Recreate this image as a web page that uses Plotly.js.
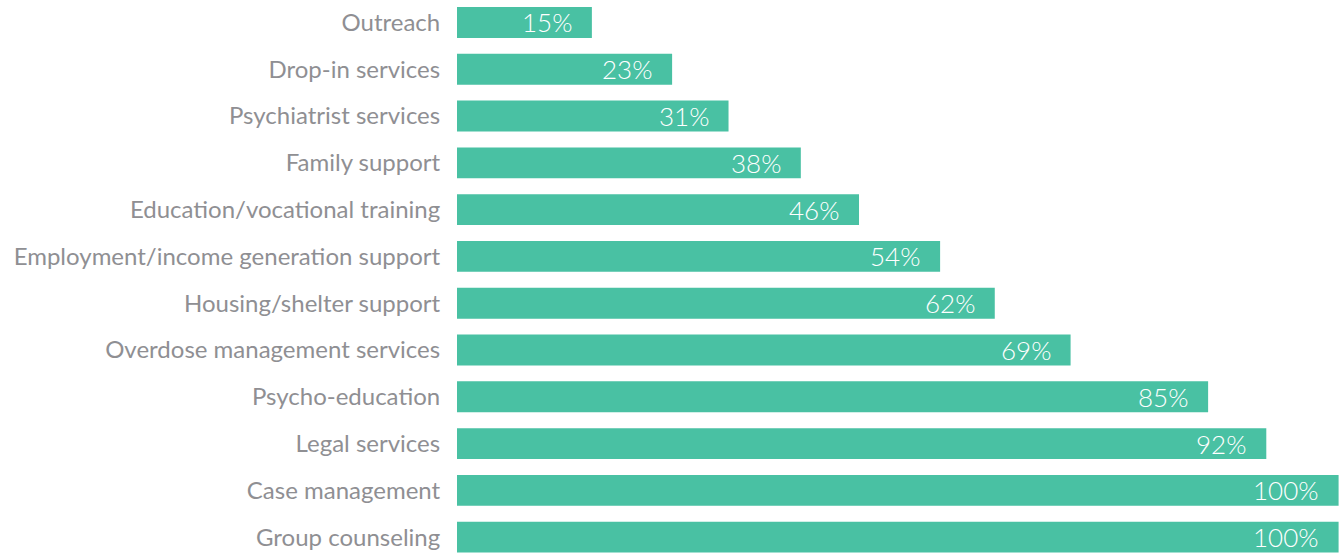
<!DOCTYPE html>
<html>
<head>
<meta charset="utf-8">
<script src="https://cdn.plot.ly/plotly-3.0.1.min.js"></script>
<style>html,body{margin:0;padding:0;background:#fff;}#chart{width:1343px;height:554px;}</style>
</head>
<body>
<div id="chart"></div>
<script>
const categories = ["Outreach","Drop-in services","Psychiatrist services","Family support","Education/vocational training","Employment/income generation support","Housing/shelter support","Overdose management services","Psycho-education","Legal services","Case management","Group counseling"];
// bar lengths (percent)
const barValues = [15.3,24.4,30.8,39.0,45.6,54.8,61.0,69.6,85.2,91.8,100,100];
// printed labels
const labels = ["15%","23%","31%","38%","46%","54%","62%","69%","85%","92%","100%","100%"];

const trace = {
  type: 'bar', orientation: 'h',
  x: barValues, y: categories,
  marker: {color: '#49C1A3'},
  width: 0.66,
  hoverinfo: 'none'
};
const annotations = categories.map((c, i) => ({
  x: barValues[i], y: c, xref: 'x', yref: 'y', text: labels[i],
  showarrow: false, xanchor: 'right', yanchor: 'middle', xshift: -18, yshift: 0,
  font: {family: 'Lato, "Open Sans", sans-serif', size: 26, color: '#ffffff', weight: 300}
}));
const layout = {
  width: 1343, height: 554,
  margin: {l: 457, r: 0, t: 0, b: 0},
  paper_bgcolor: '#fff', plot_bgcolor: '#fff',
  showlegend: false,
  xaxis: {range: [0, 100.5], visible: false, fixedrange: true},
  yaxis: {
    range: [11.36, -0.48], type: 'category',
    showgrid: false, zeroline: false, showline: false,
    ticks: 'outside', ticklen: 11, tickcolor: 'rgba(0,0,0,0)',
    tickfont: {family: 'Lato, "Open Sans", sans-serif', size: 24, color: '#8f8f93'}
  },
  annotations: annotations
};
Plotly.newPlot('chart', [trace], layout, {displayModeBar: false, staticPlot: true});
</script>
</body>
</html>
